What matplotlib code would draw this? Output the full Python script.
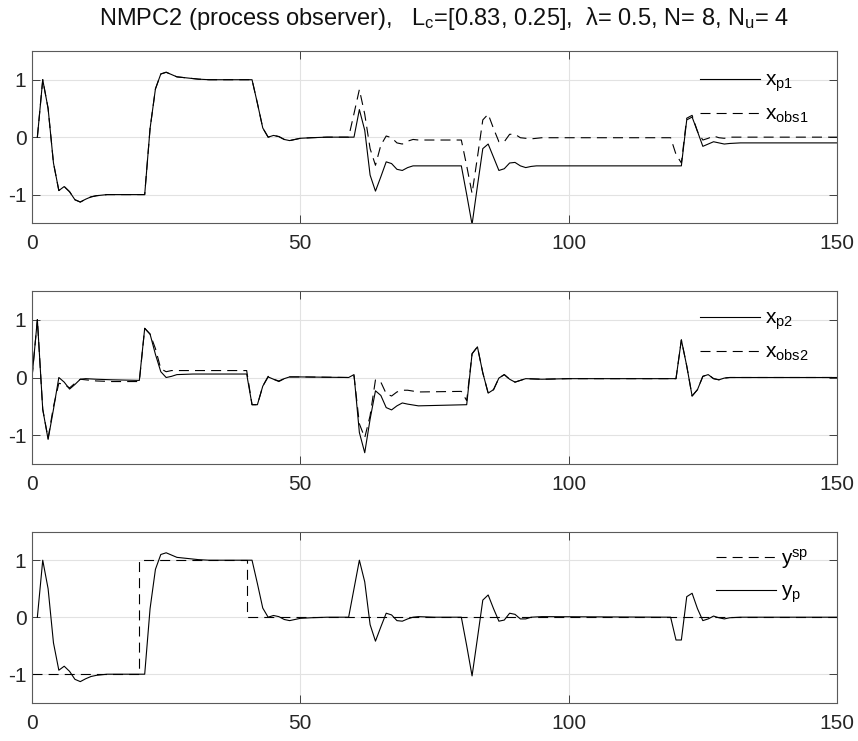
import numpy as np
import matplotlib
matplotlib.use("Agg")
import matplotlib.pyplot as plt

plt.rcParams['font.family'] = ['Liberation Sans', 'DejaVu Sans']
plt.rcParams['mathtext.fontset'] = 'custom'
plt.rcParams['mathtext.rm'] = 'Liberation Sans'
plt.rcParams['mathtext.it'] = 'Liberation Sans:italic'
plt.rcParams['font.size'] = 15

# x_p1 : process state 1
t_p1 = [1, 2, 3, 4, 5, 6, 7, 8, 9, 10, 11, 12, 14, 21, 22, 23, 24, 25, 26, 27, 28, 29, 30, 31, 33,
        41, 42, 43, 44, 45, 46, 47, 48, 49, 50, 52, 55, 60, 61, 62, 63, 64, 65, 66, 67, 68, 69, 70,
        71, 72, 80, 81, 82, 83, 84, 85, 86, 87, 88, 89, 90, 91, 92, 93, 94, 121, 122, 123, 124,
        125, 126, 127, 128, 129, 130, 132, 150]
x_p1 = [0, 1.0, 0.5, -0.45, -0.93, -0.86, -0.95, -1.09, -1.13, -1.08, -1.04, -1.02, -1.0, -1.0,
        0.15, 0.84, 1.1, 1.13, 1.09, 1.05, 1.04, 1.03, 1.02, 1.01, 1.0,
        1.0, 0.59, 0.16, 0.0, 0.03, 0.01, -0.04, -0.06, -0.04, -0.02, -0.01, 0, 0, 0.48, 0.12,
        -0.66, -0.94, -0.69, -0.43, -0.46, -0.56, -0.58, -0.53,
        -0.5, -0.5, -0.5, -1.0, -1.52, -0.85, -0.2, -0.12, -0.35, -0.58, -0.55, -0.45, -0.44,
        -0.5, -0.53, -0.51, -0.5, -0.5, 0.3, 0.35, 0.1,
        -0.16, -0.12, -0.08, -0.1, -0.12, -0.11, -0.1, -0.1]

# x_obs1 : observer estimate of state 1
t_obs1 = [1, 2, 3, 4, 5, 6, 7, 8, 9, 10, 11, 12, 14, 21, 22, 23, 24, 25, 26, 27, 28, 29, 30, 31, 33,
          41, 42, 43, 44, 45, 46, 47, 48, 49, 50, 52, 55, 59, 60, 61, 62, 63, 64, 65, 66, 67, 68,
          69, 70, 71, 72, 80, 81, 82, 83, 84, 85, 86, 87, 88, 89, 90, 91, 92, 93, 95, 119, 120,
          121, 122, 123, 124, 125, 126, 127, 128, 129, 130, 150]
x_obs1 = [0, 1.0, 0.5, -0.45, -0.93, -0.86, -0.95, -1.09, -1.13, -1.08, -1.04, -1.02, -1.0, -1.0,
          0.15, 0.84, 1.1, 1.13, 1.09, 1.05, 1.04, 1.03, 1.02, 1.01, 1.0,
          1.0, 0.59, 0.16, 0.0, 0.03, 0.01, -0.04, -0.06, -0.04, -0.02, -0.01, 0, 0, 0.41, 0.83,
          0.4, -0.2, -0.49, -0.14, 0.02, -0.01, -0.1,
          -0.12, -0.07, -0.04, -0.05, -0.05, -0.5, -0.98, -0.35, 0.3, 0.4, 0.15, -0.08, -0.08,
          0.05, 0.05, -0.01, -0.02, -0.03, -0.01, -0.01, -0.3,
          -0.45, 0.33, 0.38, 0.1, -0.05, -0.02, 0.02, -0.01, -0.02, 0, 0]

# x_p2 : process state 2
t_p2 = [0, 1, 2, 3, 4, 5, 6, 7, 8, 9, 10, 12, 15, 20, 21, 22, 23, 24, 25, 26, 27, 30, 40, 41, 42,
        43, 44, 45, 46, 47, 48, 50, 59, 60, 61, 62, 63, 64, 65, 66, 67, 68, 69, 70, 72, 81, 82, 83,
        84, 85, 86, 87, 88, 89, 90, 91, 92, 95, 100, 120, 121, 122, 123, 124, 125, 126, 127, 128,
        129, 130, 150]
x_p2 = [0, 1.0, -0.55, -1.07, -0.55, 0.0, -0.08, -0.2, -0.12, -0.03, -0.02, -0.03, -0.04, -0.05,
        0.85, 0.75, 0.4, 0.1, 0.0, 0.02, 0.05, 0.06, 0.06, -0.47, -0.47,
        -0.15, 0.01, -0.03, -0.07, -0.02, 0.01, 0.01, 0.0, 0.05, -0.95, -1.3, -0.72, -0.23, -0.31,
        -0.52, -0.56, -0.49, -0.44, -0.46, -0.49, -0.47, 0.41, 0.53,
        0.08, -0.27, -0.21, -0.01, 0.05, -0.03, -0.08, -0.05, -0.02, -0.03, -0.02, -0.02, 0.65,
        0.2, -0.32, -0.21, 0.02, 0.05, -0.02, -0.04,
        -0.01, 0, 0]

# x_obs2 : observer estimate of state 2
t_obs2 = [0, 1, 2, 3, 4, 5, 6, 7, 8, 9, 10, 12, 15, 20, 21, 22, 23, 24, 25, 26, 40, 41, 42, 43, 44,
          45, 46, 47, 48, 50, 59, 60, 61, 62, 63, 64, 65, 66, 67, 68, 69, 70, 72, 80, 81, 82, 83,
          84, 85, 86, 87, 88, 89, 90, 91, 92, 95, 100, 120, 121, 122, 123, 124, 125, 126, 127, 128,
          129, 130, 150]
x_obs2 = [0, 1.0, -0.55, -1.05, -0.5, -0.1, -0.12, -0.18, -0.1, -0.03, -0.04, -0.06, -0.07, -0.07,
          0.85, 0.75, 0.5, 0.15, 0.1, 0.12, 0.12, -0.47, -0.47, -0.15, 0.02,
          -0.03, -0.06, -0.02, 0.01, 0.01, 0.0, 0.03, -0.8, -1.04, -0.66, -0.04, -0.08, -0.28, -0.32,
          -0.25, -0.22, -0.22, -0.25, -0.24, -0.4, 0.41, 0.53,
          0.08, -0.27, -0.21, -0.01, 0.05, -0.03, -0.08, -0.05, -0.02, -0.03, -0.02, -0.02, 0.65,
          0.2, -0.32, -0.21, 0.02, 0.05, -0.02, -0.04,
          -0.01, 0, 0]

# y_sp : setpoint (stairs), y_p : process output
t_sp = [0, 20, 40, 150]
y_sp = [-1, 1, 0, 0]

t_yp = [1, 2, 3, 4, 5, 6, 7, 8, 9, 10, 11, 12, 14, 21, 22, 23, 24, 25, 26, 27, 28, 29, 30, 31, 33,
        41, 42, 43, 44, 45, 46, 47, 48, 49, 50, 52, 55, 59, 60, 61, 62, 63, 64, 65, 66, 67, 68, 69,
        70, 71, 72, 75, 80, 81, 82, 83, 84, 85, 86, 87, 88, 89, 90, 91, 92, 93, 95, 119, 120, 121,
        122, 123, 124, 125, 126, 127, 128, 129, 130, 132, 150]
y_p = [0, 1.0, 0.5, -0.45, -0.93, -0.86, -0.95, -1.09, -1.13, -1.08, -1.04, -1.02, -1.0, -1.0,
       0.15, 0.84, 1.1, 1.13, 1.09, 1.05, 1.04, 1.03, 1.02, 1.01, 1.0,
       1.0, 0.59, 0.16, 0.0, 0.03, 0.01, -0.04, -0.06, -0.04, -0.02, -0.01, 0, 0, 0.5, 1.0, 0.62,
       -0.13, -0.42, -0.17, 0.07, 0.04, -0.06, -0.07,
       -0.03, 0.0, 0.01, 0, 0, -0.5, -1.03, -0.37, 0.3, 0.39, 0.15, -0.07, -0.05, 0.07, 0.05,
       -0.03, -0.03, 0.0, 0.01, 0, -0.4, -0.4,
       0.36, 0.42, 0.15, -0.06, -0.03, 0.02, -0.01, -0.03, -0.01, 0, 0]

title = ('NMPC2 (process observer),   L$_{\\rm c}$=[0.83, 0.25],  '
         '\u03bb= 0.5, N= 8, N$_{\\rm u}$= 4')

W, H = 858, 741
fig = plt.figure(figsize=(W / 100, H / 100), dpi=100)

def px_axes(top, bottom, left=32, right=837):
    return fig.add_axes([left / W, 1 - bottom / H, (right - left) / W, (bottom - top) / H])

ax1 = px_axes(51, 223.3)
ax2 = px_axes(290.7, 464.3)
ax3 = px_axes(531.7, 702.7)

lw = 0.8
dash = (9, 5.5)

ax1.plot(t_p1, x_p1, color='k', lw=lw, label='x$_{\\rm p1}$')
ax1.plot(t_obs1, x_obs1, color='k', lw=lw, dashes=dash, label='x$_{\\rm obs1}$')

ax2.plot(t_p2, x_p2, color='k', lw=lw, label='x$_{\\rm p2}$')
ax2.plot(t_obs2, x_obs2, color='k', lw=lw, dashes=dash, label='x$_{\\rm obs2}$')

ax3.plot(t_sp, y_sp, color='k', lw=lw, dashes=dash, drawstyle='steps-post', label='y$^{\\rm sp}$')
ax3.plot(t_yp, y_p, color='k', lw=lw, label='y$_{\\rm p}$')

for ax in (ax1, ax2, ax3):
    ax.set_xlim(0, 150)
    ax.set_ylim(-1.5, 1.5)
    ax.set_xticks([0, 50, 100, 150])
    ax.set_yticks([-1, 0, 1])
    ax.set_yticklabels(['-1', '0', '1'])
    ax.grid(True, color='#e2e2e2', lw=0.8)
    ax.set_axisbelow(True)
    ax.tick_params(direction='in', length=6, width=0.6, color='#262626', labelcolor='#262626',
                   top=True, right=True, labelsize=15)
    ax.tick_params(axis='x', pad=8)
    ax.tick_params(axis='y', pad=4)
    for s in ax.spines.values():
        s.set_color('#5a5a5a')
        s.set_linewidth(0.8)

leg_kw = dict(loc='upper right', frameon=False, handlelength=2.9, handletextpad=0.25,
              labelspacing=0.52, fontsize=15, borderaxespad=0, borderpad=0)
ax1.legend(bbox_to_anchor=(0.965, 0.885), **leg_kw)
ax2.legend(bbox_to_anchor=(0.965, 0.895), **leg_kw)
ax3.legend(bbox_to_anchor=(0.965, 0.91), **leg_kw)

fig.text(444 / W, 1 - 18 / H, title, ha='center', va='center', fontsize=17, color='#111111')

fig.savefig('out.png', dpi=100)
